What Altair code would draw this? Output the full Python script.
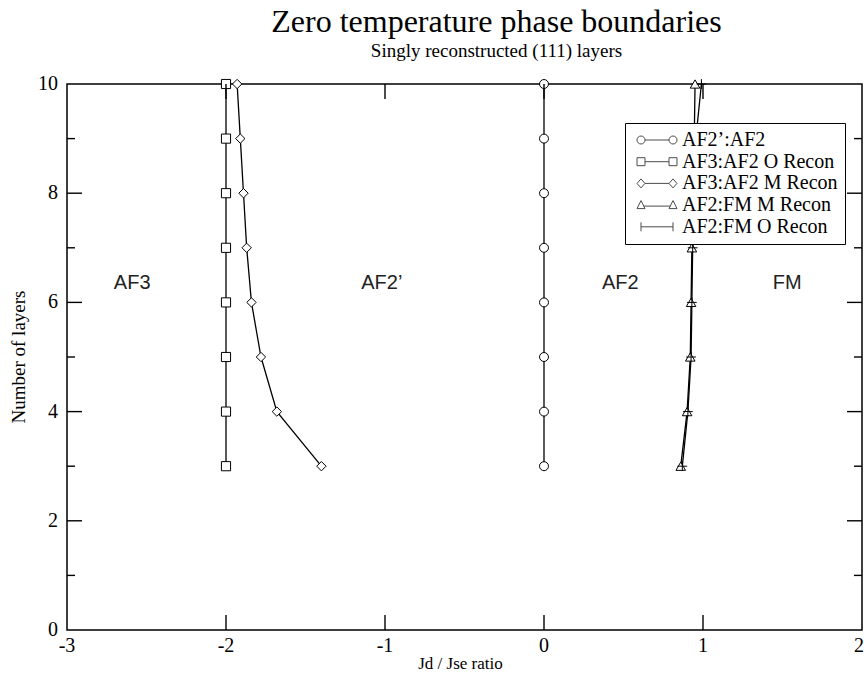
import altair as alt
import pandas as pd

# ---------------- data ----------------
layers = [3, 4, 5, 6, 7, 8, 9, 10]
series_names = ["AF2\u2019:AF2", "AF3:AF2 O Recon", "AF3:AF2 M Recon", "AF2:FM M Recon", "AF2:FM O Recon"]
af2p_af2 = [0, 0, 0, 0, 0, 0, 0, 0]
af3_af2_o = [-2, -2, -2, -2, -2, -2, -2, -2]
af3_af2_m = [-1.40, -1.68, -1.78, -1.84, -1.87, -1.89, -1.91, -1.93]
af2_fm_m = [0.86, 0.90, 0.92, 0.925, 0.93, 0.94, 0.945, 0.95]
af2_fm_o = [0.87, 0.905, 0.925, 0.93, 0.935, 0.945, 0.955, 0.99]

region_labels = ["AF3", "AF2\u2019", "AF2", "FM"]
region_x = [-2.59, -1.02, 0.48, 1.53]
region_y = [6.36, 6.36, 6.36, 6.36]

x_ticks = [-3, -2, -1, 0, 1, 2]
x_inner_ticks = [-2, -1, 0, 1]
y_ticks = [0, 2, 4, 6, 8, 10]
y_inner_major = [2, 4, 6, 8]
y_inner_minor = [1, 3, 5, 7, 9]

x_title = "Jd / Jse ratio"
y_title = "Number of layers"

# ---------------- tables ----------------
all_series = [af2p_af2, af3_af2_o, af3_af2_m, af2_fm_m, af2_fm_o]
rows = []
for name, vals in zip(series_names, all_series):
    for ly, v in zip(layers, vals):
        rows.append({"series": name, "ratio": v, "layers": ly})
df = pd.DataFrame(rows)
df_regions = pd.DataFrame({"label": region_labels, "x": region_x, "y": region_y})
df_xt = pd.DataFrame({"xtick": x_inner_ticks})
df_ymaj = pd.DataFrame({"ymajor": y_inner_major})
df_ymin = pd.DataFrame({"yminor": y_inner_minor})
df_xlab = pd.DataFrame({"v": x_ticks})
df_ylab = pd.DataFrame({"v": y_ticks})
df_titles = pd.DataFrame({"xt": [x_title], "yt": [y_title]})

W, H = 795, 546
SERIF = "Liberation Serif"

xscale = alt.Scale(domain=[-3, 2], nice=False, zero=False)
yscale = alt.Scale(domain=[0, 10], nice=False, zero=False)

point_shapes = ["circle", "square", "diamond", "triangle-up", "M -1 0 L 1 0 M 0 -1 L 0 1"]
point_sizes = [80, 95, 95, 90, 180]
line_widths = [1.3, 1.3, 0.9, 1.3, 1.3]

legend_paths = [
    "M -1 0 A 0.8 0.8 0 1 0 0.6 0 A 0.8 0.8 0 1 0 -1 0 M 0.6 0 L 5.4 0 M 5.4 0 A 0.8 0.8 0 1 0 7 0 A 0.8 0.8 0 1 0 5.4 0",
    "M -1 -0.8 L 0.6 -0.8 L 0.6 0.8 L -1 0.8 Z M 0.6 0 L 5.4 0 M 5.4 -0.8 L 7 -0.8 L 7 0.8 L 5.4 0.8 Z",
    "M -0.2 -0.9 L 0.6 0 L -0.2 0.9 L -1 0 Z M 0.6 0 L 5.4 0 M 6.2 -0.9 L 7 0 L 6.2 0.9 L 5.4 0 Z",
    "M -1 0.7 L -0.2 -0.9 L 0.6 0.7 Z M 0.3 0.2 L 5.7 0.2 M 5.4 0.7 L 6.2 -0.9 L 7 0.7 Z",
    "M -0.2 -0.9 L -0.2 0.9 M -0.2 0 L 6.2 0 M 6.2 -0.9 L 6.2 0.9",
]

base = alt.Chart(df)

lines = base.mark_line(color="black").encode(
    x=alt.X("ratio:Q", scale=xscale, axis=None),
    y=alt.Y("layers:Q", scale=yscale, axis=None),
    detail="series:N",
    order=alt.Order("layers:Q"),
    strokeWidth=alt.StrokeWidth("series:N", scale=alt.Scale(domain=series_names, range=line_widths), legend=None),
)

points = base.mark_point(filled=True, fill="white", stroke="black", strokeWidth=1, opacity=1).encode(
    x=alt.X("ratio:Q", scale=xscale, axis=None),
    y=alt.Y("layers:Q", scale=yscale, axis=None),
    shape=alt.Shape("series:N", scale=alt.Scale(domain=series_names, range=point_shapes), legend=None),
    size=alt.Size("series:N", scale=alt.Scale(domain=series_names, range=point_sizes), legend=None),
)

legend_layer = base.transform_filter("false").transform_calculate(
    legend_series="datum.series"
).mark_point(filled=False, color="black", strokeWidth=1).encode(
    x=alt.X("ratio:Q", scale=xscale, axis=None),
    y=alt.Y("layers:Q", scale=yscale, axis=None),
    shape=alt.Shape(
        "legend_series:N",
        scale=alt.Scale(domain=series_names, range=legend_paths),
        legend=alt.Legend(
            title=None, orient="none", legendX=558, legendY=39,
            padding=7, strokeColor="black", fillColor="white", cornerRadius=0,
            labelFont=SERIF, labelFontSize=20, labelColor="black", labelOffset=30,
            labelExpr="datum.label + '\u00a0\u00a0\u00a0\u00a0'",
            symbolSize=100, symbolStrokeWidth=1, symbolStrokeColor="black",
            symbolFillColor="white", rowPadding=1.7, labelLimit=300,
        ),
    ),
)

regions = alt.Chart(df_regions).mark_text(
    font="Liberation Sans", fontSize=20, color="#222222"
).encode(
    x=alt.X("x:Q", scale=xscale, axis=None),
    y=alt.Y("y:Q", scale=yscale, axis=None),
    text="label:N",
)

# ---------- inward tick marks on all four sides ----------
TW = 1.4
tick_bottom = alt.Chart(df_xt).mark_tick(
    orient="vertical", size=15, thickness=TW, color="black", opacity=1
).encode(x=alt.X("xtick:Q", scale=xscale, axis=None), y=alt.value(H - 7.5))
tick_top = alt.Chart(df_xt).mark_tick(
    orient="vertical", size=15, thickness=TW, color="black", opacity=1
).encode(x=alt.X("xtick:Q", scale=xscale, axis=None), y=alt.value(7.5))
tick_left_maj = alt.Chart(df_ymaj).mark_tick(
    orient="horizontal", size=15, thickness=TW, color="black", opacity=1
).encode(y=alt.Y("ymajor:Q", scale=yscale, axis=None), x=alt.value(7.5))
tick_right_maj = alt.Chart(df_ymaj).mark_tick(
    orient="horizontal", size=15, thickness=TW, color="black", opacity=1
).encode(y=alt.Y("ymajor:Q", scale=yscale, axis=None), x=alt.value(W - 7.5))
tick_left_min = alt.Chart(df_ymin).mark_tick(
    orient="horizontal", size=8, thickness=TW, color="black", opacity=1
).encode(y=alt.Y("yminor:Q", scale=yscale, axis=None), x=alt.value(4))
tick_right_min = alt.Chart(df_ymin).mark_tick(
    orient="horizontal", size=8, thickness=TW, color="black", opacity=1
).encode(y=alt.Y("yminor:Q", scale=yscale, axis=None), x=alt.value(W - 4))

# ---------- tick labels placed through the scales ----------
xlab_base = alt.Chart(df_xlab).transform_calculate(lbl="'' + datum.v")
x_labels = xlab_base.transform_filter("datum.v < 2").mark_text(
    font=SERIF, fontSize=20, color="black", baseline="top", align="center"
).encode(
    x=alt.X("v:Q", scale=xscale, axis=None), y=alt.value(H + 6), text="lbl:N"
)
x_label_last = xlab_base.transform_filter("datum.v >= 2").mark_text(
    font=SERIF, fontSize=20, color="black", baseline="top", align="right", dx=2
).encode(
    x=alt.X("v:Q", scale=xscale, axis=None), y=alt.value(H + 6), text="lbl:N"
)
y_labels = alt.Chart(df_ylab).transform_calculate(lbl="'' + datum.v").mark_text(
    font=SERIF, fontSize=20, color="black", baseline="middle", align="right"
).encode(
    y=alt.Y("v:Q", scale=yscale, axis=None), x=alt.value(-9), text="lbl:N"
)

# ---------- axis titles ----------
x_title_mark = alt.Chart(df_titles).mark_text(
    font=SERIF, fontSize=17, color="black", baseline="middle", align="center"
).encode(x=alt.value(W / 2 - 4), y=alt.value(H + 34), text="xt:N")
y_title_mark = alt.Chart(df_titles).mark_text(
    font=SERIF, fontSize=19, color="black", baseline="middle", align="center", angle=270
).encode(x=alt.value(-48), y=alt.value(H / 2), text="yt:N")

chart = alt.layer(
    lines, points, regions, x_labels, x_label_last, y_labels,
    x_title_mark, y_title_mark,
    tick_bottom, tick_top, tick_left_maj, tick_right_maj, tick_left_min, tick_right_min,
    legend_layer,
).resolve_scale(
    shape="independent", size="independent"
).properties(
    width=W, height=H,
    title=alt.TitleParams(
        text="Zero temperature phase boundaries",
        subtitle="Singly reconstructed (111) layers",
        font=SERIF, fontSize=32, fontWeight="normal", color="black",
        subtitleFont=SERIF, subtitleFontSize=19, subtitleColor="black",
        subtitlePadding=3, anchor="middle", frame="group", offset=12, dx=32,
    ),
    autosize=alt.AutoSizeParams(type="none"),
    padding={"left": 67, "top": 84, "right": 2, "bottom": 53},
).configure(
    background="white"
).configure_view(
    stroke="black", strokeWidth=1.5
)

chart.save("out.html", embed_options={"renderer": "svg", "actions": False})
